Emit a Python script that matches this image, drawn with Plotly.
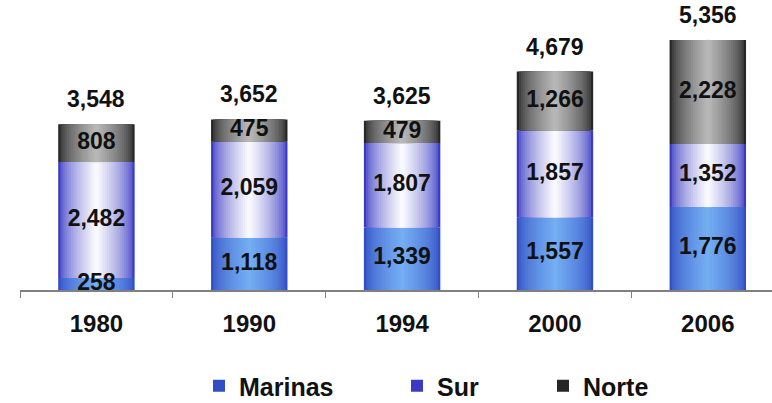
import plotly.graph_objects as go

years = ["1980", "1990", "1994", "2000", "2006"]
marinas = [258, 1118, 1339, 1557, 1776]
sur = [2482, 2059, 1807, 1857, 1352]
norte = [808, 475, 479, 1266, 2228]
totals = [3548, 3652, 3625, 4679, 5356]

series = [
    ("Marinas", marinas, (50, 78, 196), (118, 176, 244), "legend"),
    ("Sur", sur, (58, 58, 196), (255, 255, 255), "legend2"),
    ("Norte", norte, (38, 38, 38), (188, 188, 188), "legend3"),
]

BAR_W = 0.5
STEPS = 18
FONT = "Liberation Sans, Arial"

fig = go.Figure()

idx = list(range(len(years)))
bases = [0] * len(years)
label_x, label_y, label_t = [], [], []
for name, vals, edge, center, lg in series:
    for k in range(STEPS):
        f = k / STEPS
        t = f ** 0.6
        col = tuple(int(round(edge[i] + (center[i] - edge[i]) * t)) for i in range(3))
        w = BAR_W * (1 - f)
        fig.add_trace(go.Bar(
            x=years, y=vals, base=bases, width=w,
            marker=dict(color="rgb(%d,%d,%d)" % col, line=dict(width=0)),
            name=name, legendgroup=name, showlegend=(k == 0), legend=lg,
            hoverinfo="skip",
        ))
    for i, v in enumerate(vals):
        label_x.append(years[i])
        label_y.append(bases[i] + v / 2)
        label_t.append(f"{v:,}")
    bases = [b + v for b, v in zip(bases, vals)]

fig.add_trace(go.Scatter(
    x=label_x, y=label_y, text=label_t, mode="text",
    textfont=dict(family=FONT, size=23, color="#111", weight="bold"),
    textposition="middle center", showlegend=False, hoverinfo="skip",
))

for i, tot in zip(idx, totals):
    fig.add_annotation(
        x=i, y=tot, xref="x", yref="y", text=f"{tot:,}", showarrow=False,
        yanchor="bottom", yshift=10,
        font=dict(family=FONT, size=23, color="#111", weight="bold"),
    )

leg_common = dict(
    orientation="h", xref="container", yref="container",
    yanchor="middle", y=1 - 386 / 403, xanchor="left",
    font=dict(family=FONT, size=25, weight="bold", color="#111"),
    bgcolor="rgba(0,0,0,0)", borderwidth=0,
)

fig.update_layout(
    barmode="overlay",
    width=772, height=403,
    margin=dict(l=20, r=0, t=0, b=113, autoexpand=False),
    plot_bgcolor="white", paper_bgcolor="white",
    font=dict(family=FONT, size=20, color="#111"),
    legend=dict(x=199 / 772, **leg_common),
    legend2=dict(x=397 / 772, **leg_common),
    legend3=dict(x=543 / 772, **leg_common),
    xaxis=dict(
        type="category", range=[-0.5, 4.42], automargin=False,
        showline=True, linecolor="#808080", linewidth=1.5,
        ticks="outside", tickson="boundaries", ticklen=6, tickcolor="#808080",
        tickfont=dict(family=FONT, size=24, weight="bold", color="#111"),
        ticklabelstandoff=11, showgrid=False,
    ),
    yaxis=dict(range=[0, 6210], visible=False, showgrid=False, automargin=False),
)

fig.write_html("out.html", config={"displayModeBar": False},
               post_script="document.body.style.margin='0';")
